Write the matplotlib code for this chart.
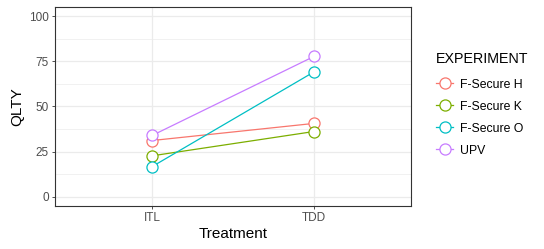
import matplotlib.pyplot as plt
from matplotlib.ticker import MultipleLocator

plt.rcParams['font.family'] = ['Liberation Sans', 'DejaVu Sans']

treatments = ['ITL', 'TDD']
experiments = ['F-Secure H', 'F-Secure K', 'F-Secure O', 'UPV']
qlty = {
    'F-Secure H': [31.1, 40.6],
    'F-Secure K': [22.6, 36.1],
    'F-Secure O': [16.6, 69.2],
    'UPV': [33.9, 77.8],
}
colors = ['#F8766D', '#7CAE00', '#00BFC4', '#C77CFF']

fig = plt.figure(figsize=(5.44, 2.49), dpi=100)
ax = fig.add_axes([55 / 544, 1 - 205.5 / 249, 356 / 544, 198 / 249])

x = list(range(1, len(treatments) + 1))
for name, c in zip(experiments, colors):
    ax.plot(x, qlty[name], color=c, lw=0.9, marker='o', ms=8,
            mfc='white', mec=c, mew=0.9, label=name)

ax.set_xlim(0.4, 2.6)
ax.set_ylim(-5, 105)
ax.set_xticks(x)
ax.set_xticklabels(treatments)
ax.yaxis.set_major_locator(MultipleLocator(25))
ax.yaxis.set_minor_locator(MultipleLocator(12.5))
ax.grid(True, which='major', color='#EBEBEB', lw=0.9)
ax.grid(True, which='minor', axis='y', color='#EBEBEB', lw=0.5)
ax.set_axisbelow(True)
ax.tick_params(which='major', length=2.5, width=0.6, color='#333333',
               labelcolor='#4D4D4D', labelsize=8.5, pad=2)
ax.tick_params(which='minor', length=0)
for s in ax.spines.values():
    s.set_color('#333333')
    s.set_linewidth(0.8)

ax.set_xlabel('Treatment', fontsize=11, labelpad=2)
ax.set_ylabel('QLTY', fontsize=11, labelpad=3)

leg = fig.legend(loc='upper left', bbox_to_anchor=(436 / 544, 1 - 52 / 249),
                 title='EXPERIMENT', fontsize=8.8, title_fontsize=10.3,
                 frameon=False, handlelength=1.4, handletextpad=0.6,
                 labelspacing=0.82, borderaxespad=0, borderpad=0)
leg._legend_box.align = 'left'
leg._legend_box.sep = 9

fig.savefig('out.png', dpi=100)
